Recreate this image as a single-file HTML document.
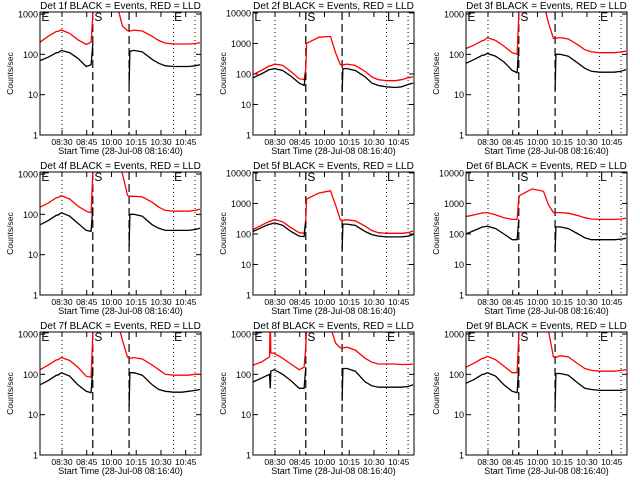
<!DOCTYPE html>
<html><head><meta charset="utf-8"><style>
html,body{margin:0;padding:0;background:#fff;}
svg{display:block;font-family:"Liberation Sans",sans-serif;}
</style></head><body>
<svg id="chart" width="640" height="480" viewBox="0 0 640 480"></svg>
<script>
// Times in minutes from start 08:16:40
const times = [0,5,10,10.5,10.8,13,18,23,28,31,32,32.5,40,47,50,53,54,54.5,57,62,68,72,76,81,86,90,94,97];
const detectors = ["1f","2f","3f","4f","5f","6f","7f","8f","9f"];
const yMaxDecade = [3,4,3,3,4,4,3,3,3];
const xTickLabels = ["08:30","08:45","10:00","10:15","10:30","10:45"];
const xTickTimes = [13.33,28.33,43.33,58.33,73.33,88.33];
const dottedTimes = [13.33,81,94];
const dashedTimes = [32,54];
const N = null;
const black1 = [70,85,110,110,110,125,110,80,50,55,180,N,N,N,N,N,18,120,125,115,75,60,52,50,50,50,52,55];
const red1   = [200,280,370,370,370,400,330,230,175,200,900,3000,5000,1500,500,390,380,380,400,380,280,220,190,180,180,180,185,195];
const black2 = [75,100,140,140,140,150,130,85,50,42,100,N,N,N,N,N,25,150,150,130,80,50,42,38,36,38,45,50];
const red2   = [95,130,185,185,185,210,190,120,70,65,150,1000,1600,1700,500,200,200,200,210,190,120,80,65,60,60,65,75,80];
const black3 = [60,75,95,95,95,105,90,65,40,35,150,N,N,N,N,N,13,100,100,90,60,45,38,36,36,36,38,42];
const red3   = [140,170,220,220,220,260,220,160,110,100,900,3000,5000,2000,600,250,250,250,260,240,170,130,115,110,110,110,115,120];
const black4 = [55,70,95,95,95,110,90,60,40,38,150,N,N,N,N,N,16,100,100,90,55,45,40,40,40,40,42,45];
const red4   = [150,190,260,260,260,290,240,160,120,110,1000,3000,5000,2500,1000,300,280,280,280,270,200,150,125,120,120,120,125,135];
const black5 = [120,160,210,210,210,230,190,120,85,82,250,N,N,N,N,N,30,210,210,190,120,95,85,80,80,80,85,95];
const red5   = [140,190,260,260,260,300,250,160,110,105,300,1400,2200,2600,900,290,280,280,290,270,180,130,110,105,105,105,110,125];
const black6 = [100,130,170,170,170,180,150,100,65,65,300,N,N,N,N,N,25,170,170,150,100,75,65,65,65,65,68,72];
const red6   = [370,420,490,490,490,500,420,340,300,300,1500,1800,3000,2500,900,500,500,500,500,480,400,340,310,300,300,300,310,330];
const black7 = [55,70,95,95,95,110,90,55,38,35,150,N,N,N,N,N,16,110,110,95,55,42,38,36,36,38,40,42];
const red7   = [130,170,230,230,230,260,220,150,90,85,1000,3000,5000,2000,700,270,250,250,260,240,170,130,100,95,95,95,100,100];
const black8 = [65,80,100,45,120,130,100,70,45,45,150,N,N,N,N,N,22,140,140,120,65,52,48,48,48,48,50,55];
const red8   = [170,200,270,3000,340,330,250,180,130,150,500,1500,4000,1500,600,450,450,450,470,400,250,200,180,180,180,175,175,180];
const black9 = [60,75,100,100,100,110,90,55,38,35,150,N,N,N,N,N,15,105,105,95,60,45,42,40,40,40,40,42];
const red9   = [150,190,250,250,250,280,230,160,110,110,900,3000,5000,3000,1200,270,260,260,290,270,180,140,125,120,120,120,125,130];
const blackSeries = [black1,black2,black3,black4,black5,black6,black7,black8,black9];
const redSeries = [red1,red2,red3,red4,red5,red6,red7,red8,red9];
const markerLabels = [["E","S","E"],["L","S","L"],["E","S","E"],["E","S","E"],["L","S","L"],["L","S","L"],["E","S","E"],["E","S","E"],["E","S","E"]];

const svg = document.getElementById('chart');
const NS = 'http://www.w3.org/2000/svg';
function mk(tag, attrs, parent){const e=document.createElementNS(NS,tag);for(const k in attrs)e.setAttribute(k,attrs[k]);parent.appendChild(e);return e;}
const colX=[40,253,466], rowY=[12,172,332], W=161, H=123, T0=0, T1=97.6;
const defs = mk('defs',{},svg);

for(let p=0;p<9;p++){
  const x0=colX[p%3], y0=rowY[Math.floor(p/3)];
  const topLog = yMaxDecade[p]===3 ? 3.05 : 4.03;
  const xs = t => x0 + (t-T0)/(T1-T0)*W;
  const ys = v => y0 + H - Math.log10(v)/topLog*H;
  const g = mk('g',{},svg);
  
  
  const cp = mk('clipPath',{id:'cp'+p},defs);
  mk('rect',{x:x0,y:y0,width:W,height:H},cp);
  const title = mk('text',{x:x0+W/2,y:y0-3,'text-anchor':'middle','font-size':'10'},g);
  title.textContent='Det '+detectors[p]+' BLACK = Events, RED = LLD';
  
  
  for(let d=0; d<=yMaxDecade[p]; d++){
    const yy=ys(Math.pow(10,d));
    mk('line',{x1:x0,x2:x0+5,y1:yy,y2:yy,stroke:'#000','stroke-width':1},g);
    mk('line',{x1:x0+W-5,x2:x0+W,y1:yy,y2:yy,stroke:'#000','stroke-width':1},g);
    const lab = mk('text',{x:x0-2,y:yy+3.5,'text-anchor':'end','font-size':'9'},g);
    lab.textContent=String(Math.pow(10,d));
    
    
  }
  const yt = mk('text',{x:0,y:0,'text-anchor':'middle','font-size':'8.5',transform:'translate('+(x0-27)+','+(y0+H/2)+') rotate(-90)'},g);
  yt.textContent='Counts/sec';
  
  
  xTickTimes.forEach((t,i)=>{
    const xx=xs(t);
    mk('line',{x1:xx,x2:xx,y1:y0+H,y2:y0+H-5,stroke:'#000'},g);
    mk('line',{x1:xx,x2:xx,y1:y0,y2:y0+5,stroke:'#000'},g);
    const lab=mk('text',{x:xx,y:y0+H+10,'text-anchor':'middle','font-size':'8.5'},g);
    lab.textContent=xTickLabels[i];
    
    
  });
  const xt=mk('text',{x:x0+W/2,y:y0+H+19,'text-anchor':'middle','font-size':'9'},g);
  xt.textContent='Start Time (28-Jul-08 08:16:40)';
  
  
  dottedTimes.forEach(t=>{
    const l=mk('line',{x1:xs(t),x2:xs(t),y1:y0,y2:y0+H,stroke:'#000','stroke-dasharray':'1,3'},g);
    
    
  });
  dashedTimes.forEach(t=>{
    const l=mk('line',{x1:xs(t),x2:xs(t),y1:y0,y2:y0+H,stroke:'#000','stroke-dasharray':'8,4','stroke-width':1.2},g);
    
    
  });
  const mkT=[0.8,dashedTimes[0]+1,81.3];
  markerLabels[p].forEach((s,i)=>{
    const tx=mk('text',{x:xs(mkT[i]),y:y0+9,'font-size':'12'},g);
    tx.textContent=s;
    
    
  });
  function path(arr,color,name){
    let d='',pen=false;
    for(let i=0;i<times.length;i++){
      const v=arr[i];
      if(v===null){pen=false;continue;}
      d+=(pen?'L':'M')+xs(times[i]).toFixed(1)+','+ys(v).toFixed(1);
      pen=true;
    }
    const pth=mk('path',{d:d,fill:'none',stroke:color,'stroke-width':1.3,'clip-path':'url(#cp'+p+')'},g);
    
    
  }
  path(redSeries[p],'#ff0000','lld-series-line');
  path(blackSeries[p],'#000','events-series-line');
  const box=mk('rect',{x:x0,y:y0,width:W,height:H,fill:'none',stroke:'#000','stroke-width':1},g);
  
  
}
</script>
</body></html>
